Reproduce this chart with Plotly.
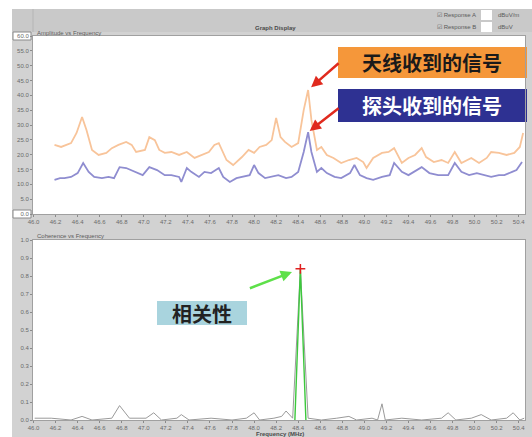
import plotly.graph_objects as go

# ---------------- data ----------------
freq_a = [46.19, 46.25, 46.34, 46.39, 46.44, 46.48, 46.53, 46.59, 46.66, 46.71, 46.77, 46.84, 46.89,
          46.93, 47.01, 47.05, 47.10, 47.14, 47.19, 47.25, 47.32, 47.39, 47.46, 47.52, 47.59, 47.64,
          47.68, 47.75, 47.81, 47.89, 47.95, 48.00, 48.05, 48.11, 48.16, 48.20, 48.24, 48.28, 48.34,
          48.40, 48.45, 48.49, 48.52, 48.57, 48.61, 48.66, 48.72, 48.79, 48.86, 48.93, 48.99, 49.02,
          49.08, 49.16, 49.22, 49.27, 49.34, 49.40, 49.46, 49.52, 49.56, 49.63, 49.70, 49.76, 49.82,
          49.88, 49.93, 49.97, 50.04, 50.11, 50.15, 50.22, 50.29, 50.36, 50.41, 50.44]
amp_a = [23.3, 22.6, 23.9, 27.3, 32.7, 28.3, 21.6, 19.9, 20.6, 22.2, 23.3, 24.3, 23.3,
         20.9, 21.6, 25.9, 24.9, 21.6, 20.6, 20.9, 19.9, 20.9, 18.9, 19.9, 20.9, 23.3,
         23.9, 18.2, 16.5, 19.2, 21.6, 20.6, 22.6, 23.3, 24.9, 32.4, 25.9, 24.3, 22.6,
         23.9, 35.0, 41.8, 31.7, 21.6, 22.6, 19.9, 18.9, 17.2, 18.2, 18.9, 17.5, 15.5,
         18.9, 20.6, 20.9, 22.2, 17.2, 18.9, 19.9, 22.2, 19.2, 17.5, 18.2, 17.2, 20.9,
         17.2, 18.2, 18.9, 17.2, 18.9, 20.9, 20.6, 19.9, 20.6, 22.6, 27.3]

freq_b = [46.19, 46.24, 46.28, 46.34, 46.40, 46.45, 46.50, 46.55, 46.62, 46.68, 46.73, 46.78, 46.84,
          46.92, 46.99, 47.05, 47.12, 47.19, 47.25, 47.32, 47.34, 47.39, 47.43, 47.50, 47.55, 47.61,
          47.68, 47.72, 47.78, 47.84, 47.90, 47.96, 48.00, 48.04, 48.10, 48.16, 48.22, 48.29, 48.34,
          48.40, 48.45, 48.49, 48.52, 48.57, 48.61, 48.66, 48.73, 48.79, 48.87, 48.91, 48.96, 49.02,
          49.08, 49.16, 49.23, 49.27, 49.34, 49.40, 49.47, 49.52, 49.59, 49.67, 49.76, 49.82, 49.88,
          49.95, 50.02, 50.08, 50.15, 50.22, 50.27, 50.34, 50.38, 50.43]
amp_b = [11.5, 12.1, 12.1, 12.5, 13.8, 17.2, 14.2, 12.5, 12.1, 12.5, 12.1, 15.8, 15.5,
         14.2, 13.1, 15.8, 14.8, 13.1, 13.1, 12.5, 10.8, 15.5, 14.2, 12.5, 14.2, 13.8,
         15.5, 12.5, 10.8, 12.1, 12.5, 13.1, 16.5, 13.8, 12.1, 12.5, 13.1, 12.1, 12.5,
         14.2, 20.9, 27.6, 20.9, 14.2, 15.5, 13.8, 12.5, 12.1, 13.8, 16.5, 13.1, 12.1,
         11.5, 12.5, 13.1, 17.2, 14.2, 13.1, 14.8, 15.8, 13.8, 13.1, 13.1, 17.2, 14.2,
         13.1, 13.8, 13.1, 12.5, 13.1, 13.1, 14.2, 14.8, 17.5]

freq_c = [46.01, 46.16, 46.34, 46.44, 46.53, 46.71, 46.78, 46.87, 47.02, 47.09, 47.16, 47.30, 47.34,
          47.41, 47.61, 47.80, 47.93, 48.00, 48.05, 48.18, 48.25, 48.29, 48.35, 48.42, 48.49, 48.61,
          48.75, 48.86, 48.93, 49.07, 49.12, 49.16, 49.19, 49.34, 49.52, 49.70, 49.76, 49.83, 49.97,
          50.06, 50.15, 50.29, 50.35, 50.41, 50.45]
coh = [0.01, 0.01, 0.00, 0.02, 0.00, 0.01, 0.08, 0.01, 0.01, 0.04, 0.00, 0.01, 0.03,
       0.00, 0.01, 0.00, 0.01, 0.04, 0.00, 0.01, 0.02, 0.05, 0.01, 0.84, 0.01, 0.00,
       0.01, 0.02, 0.00, 0.01, 0.00, 0.09, 0.00, 0.01, 0.00, 0.01, 0.04, 0.00, 0.01,
       0.03, 0.00, 0.01, 0.04, 0.00, 0.01]
freq_peak = [48.37, 48.42, 48.47]
coh_peak = [0.0, 0.84, 0.0]

label_a = "天线收到的信号"
label_b = "探头收到的信号"
label_c = "相关性"

# ---------------- layout helpers (pixel -> paper) ----------------
W, H = 532, 437
L, R, T, B = 33, 7, 36, 17
PW, PH = W - L - R, H - T - B


def px(x):
    return (x - L) / PW


def py(y):
    return (H - B - y) / PH


TICKFONT = dict(family="Liberation Sans", size=6, color="#6a6a6a")

fig = go.Figure()
fig.add_trace(go.Scatter(x=freq_a, y=amp_a, mode="lines", line=dict(color="#F8C49A", width=1.8),
                         xaxis="x", yaxis="y", showlegend=False))
fig.add_trace(go.Scatter(x=freq_b, y=amp_b, mode="lines", line=dict(color="#8F8DD0", width=1.8),
                         xaxis="x", yaxis="y", showlegend=False))
fig.add_trace(go.Scatter(x=freq_c, y=coh, mode="lines", line=dict(color="#9a9a9a", width=1),
                         xaxis="x2", yaxis="y2", showlegend=False))
fig.add_trace(go.Scatter(x=freq_peak, y=coh_peak, mode="lines", line=dict(color="#3CC83C", width=1.4),
                         xaxis="x2", yaxis="y2", showlegend=False))
ipk = coh.index(max(coh))
fig.add_trace(go.Scatter(x=[freq_c[ipk]], y=[coh[ipk]], mode="markers",
                         marker=dict(symbol="cross-thin", size=7, line=dict(color="#E02020", width=1.5)),
                         xaxis="x2", yaxis="y2", showlegend=False))

xcommon = dict(range=[45.995, 50.457], tick0=46.0, dtick=0.2, tickformat=".1f", showgrid=False,
               zeroline=False, ticks="outside", ticklen=2, tickcolor="#8a8a8a", tickfont=TICKFONT,
               showline=True, linecolor="#a0a0a0", linewidth=1, mirror=True)
ycommon = dict(showgrid=False, zeroline=False, ticks="outside", ticklen=2, tickcolor="#8a8a8a",
               tickfont=TICKFONT, tickformat=".1f", showline=True, linecolor="#a0a0a0", linewidth=1,
               mirror=True)

fig.update_layout(
    width=W, height=H, margin=dict(l=L, r=R, t=T, b=B),
    paper_bgcolor="#D2D2D2", plot_bgcolor="#FFFFFF",
    xaxis=dict(xcommon, anchor="y"),
    yaxis=dict(ycommon, domain=[py(214), 1.0], range=[0, 60], dtick=5),
    xaxis2=dict(xcommon, anchor="y2"),
    yaxis2=dict(ycommon, domain=[0.0, py(240)], range=[0, 1.0], dtick=0.1),
)


def rect(x0, x1, y0, y1, fill, line=None, layer="below"):
    return dict(type="rect", xref="paper", yref="paper", x0=px(x0), x1=px(x1), y0=py(y1), y1=py(y0),
                fillcolor=fill, line=line or dict(width=0), layer=layer)


shapes = [
    # white outer margins
    rect(0, 12, 0, 437, "#FFFFFF"),
    rect(0, 532, 0, 9, "#FFFFFF"),
    # header band
    rect(12, 532, 9, 32, "#C9C9C9"),
    dict(type="line", xref="paper", yref="paper", x0=px(33), x1=px(33), y0=py(32), y1=py(9),
         line=dict(color="#B5B5B5", width=1), layer="below"),
    # boxed scale limits
    rect(13, 31, 32, 40, "#FFFFFF", dict(color="#8a8a8a", width=1)),
    rect(13, 31, 210, 218, "#FFFFFF", dict(color="#8a8a8a", width=1)),
    # legend boxes
    rect(481, 492, 10, 20, "#FFFFFF"),
    rect(481, 492, 22, 32, "#FFFFFF"),
    # callout boxes
    rect(338, 527, 47, 78, "#F5973A"),
    rect(338, 527, 89, 122, "#2E3192"),
    rect(157, 247, 301, 325, "#A9D4DE"),
]
fig.update_layout(shapes=shapes)

ia = amp_a.index(max(amp_a))
ib = amp_b.index(max(amp_b))
SMALL = dict(family="Liberation Sans", size=6, color="#5a5a5a")
CJK = "Noto Sans CJK SC"


def label(text, x, y, font, xanchor="center"):
    return dict(text=text, xref="paper", yref="paper", x=px(x), y=py(y), xanchor=xanchor,
                yanchor="middle", showarrow=False, font=font)


ann = [
    label(label_a, 432, 62.5, dict(family=CJK, size=20, color="#1a1a1a", weight="bold")),
    label(label_b, 432, 105.5, dict(family=CJK, size=20, color="#FFFFFF", weight="bold")),
    label(label_c, 202, 313, dict(family=CJK, size=20, color="#222222", weight="bold")),
    dict(text="", x=freq_a[ia], y=amp_a[ia], xref="x", yref="y", showarrow=True, ax=32, ay=-28,
         arrowcolor="#E02A1E", arrowwidth=2.5, arrowhead=2, arrowsize=0.9, standoff=4),
    dict(text="", x=freq_b[ib], y=amp_b[ib], xref="x", yref="y", showarrow=True, ax=32, ay=-25,
         arrowcolor="#E02A1E", arrowwidth=2.5, arrowhead=2, arrowsize=0.9, standoff=2),
    dict(text="", x=freq_c[ipk], y=coh[ipk], xref="x2", yref="y2", showarrow=True, ax=-52, ay=20,
         arrowcolor="#5EE04A", arrowwidth=2.5, arrowhead=2, arrowsize=0.9, standoff=9),
    label("Graph Display", 275, 28, dict(family="Liberation Sans", size=6, color="#4a4a4a", weight="bold")),
    label("Amplitude vs Frequency", 35, 32.5, SMALL, "left"),
    label("Coherence vs Frequency", 35, 236, SMALL, "left"),
    label("Frequency (MHz)", 280, 433.5, dict(family="Liberation Sans", size=6, color="#4a4a4a", weight="bold")),
    label("\u2611 Response A", 478, 15, SMALL, "right"),
    label("\u2611 Response B", 478, 27, SMALL, "right"),
    label("dBuV/m", 496, 15, SMALL, "left"),
    label("dBuV", 496, 27, SMALL, "left"),
]
fig.update_layout(annotations=ann)

fig.write_html("out.html")
